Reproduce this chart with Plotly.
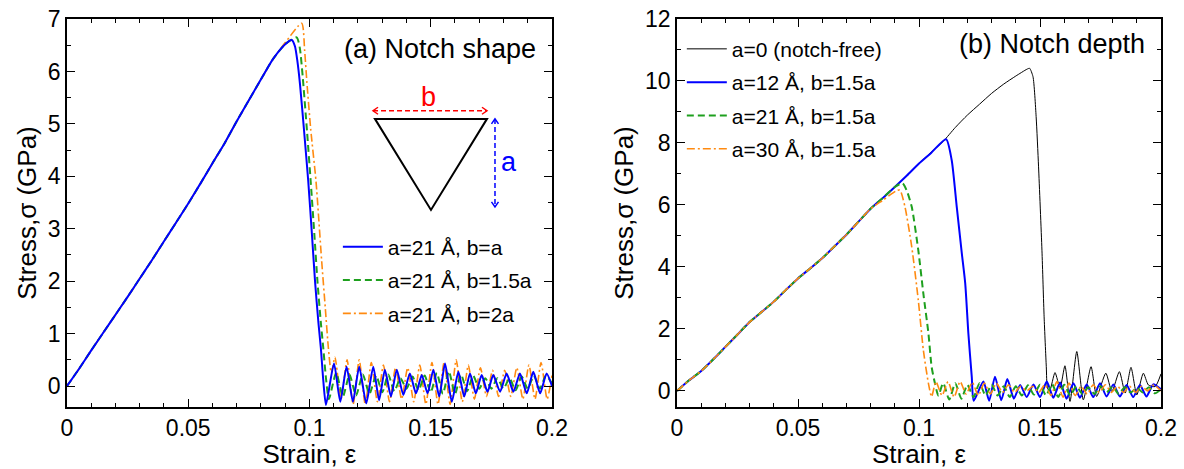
import plotly.graph_objects as go

# ---------------- data: panel (a) notch shape ----------------
load_strain_a = [0.0, 0.005, 0.01, 0.015, 0.02, 0.025, 0.03, 0.035, 0.04, 0.045,
                 0.05, 0.055, 0.06, 0.065, 0.07, 0.075, 0.08, 0.085, 0.09]
load_stress_a = [0.0, 0.33, 0.68, 1.02, 1.36, 1.70, 2.05, 2.40, 2.76, 3.12,
                 3.48, 3.86, 4.25, 4.63, 5.05, 5.45, 5.85, 6.24, 6.52]

ba_strain = [0.0927, 0.094, 0.095, 0.0961, 0.0978, 0.0995, 0.101, 0.1023, 0.1037, 0.1047, 0.1057, 0.1068,
             0.1101, 0.1127, 0.1153, 0.1179, 0.1205, 0.1234, 0.1263, 0.1287, 0.1311, 0.1336,
             0.1360, 0.1387, 0.1414, 0.1439, 0.1463, 0.1487, 0.1511, 0.1535, 0.1559, 0.1587,
             0.1614, 0.1638, 0.1662, 0.1686, 0.1710, 0.1734, 0.1758, 0.1786, 0.1813, 0.1841,
             0.1868, 0.1896, 0.1923, 0.1951, 0.1978, 0.2]
ba_stress = [6.60, 6.48, 6.20, 5.75, 4.85, 3.90, 2.90, 1.99, 1.20, 0.72, 0.10, -0.36,
             0.43, -0.30, 0.37, -0.30, 0.37, -0.33, 0.37, -0.27, 0.31, -0.20,
             0.31, -0.17, 0.24, -0.14, 0.21, -0.14, 0.31, -0.20, 0.43, -0.30,
             0.27, -0.20, 0.24, -0.14, 0.21, -0.11, 0.21, -0.11, 0.24, -0.11,
             0.24, -0.14, 0.27, -0.14, 0.24, 0.0]

b15_strain = [0.0947, 0.0960, 0.0972, 0.0990, 0.1005, 0.1020, 0.1033, 0.1047, 0.1057, 0.1068, 0.1080,
              0.1110, 0.1138, 0.1165, 0.1192, 0.1220, 0.1247, 0.1275, 0.1300, 0.1325, 0.1350,
              0.1375, 0.1400, 0.1425, 0.1450, 0.1475, 0.1500, 0.1525, 0.1550, 0.1575, 0.1600,
              0.1625, 0.1650, 0.1675, 0.1700, 0.1725, 0.1750, 0.1775, 0.1800, 0.1825, 0.1850,
              0.1875, 0.1900, 0.1925, 0.1950, 0.1975, 0.2]
b15_stress = [6.65, 6.45, 5.90, 4.85, 3.90, 2.90, 1.99, 1.20, 0.72, 0.15, -0.25,
              0.25, -0.20, 0.22, -0.18, 0.22, -0.15, 0.20, -0.12, 0.22, -0.10,
              0.15, -0.05, 0.18, -0.08, 0.20, -0.12, 0.25, -0.15, 0.28, -0.15,
              0.22, -0.10, 0.20, -0.05, 0.15, -0.05, 0.15, -0.05, 0.15, -0.08,
              0.18, -0.05, 0.20, -0.05, 0.20, 0.05]

b2_strain = [0.0968, 0.0980, 0.0989, 0.1005, 0.1027, 0.1050, 0.1065, 0.1078, 0.1090,
             0.1105, 0.1130, 0.1155, 0.1180, 0.1205, 0.1230, 0.1255, 0.1280, 0.1305, 0.1330,
             0.1355, 0.1380, 0.1405, 0.1430, 0.1455, 0.1480, 0.1505, 0.1530, 0.1555, 0.1580,
             0.1605, 0.1630, 0.1655, 0.1680, 0.1705, 0.1730, 0.1755, 0.1780, 0.1805, 0.1830,
             0.1855, 0.1880, 0.1905, 0.1930, 0.1955, 0.1980, 0.2]
b2_stress = [6.92, 6.40, 5.81, 4.90, 3.90, 2.40, 1.50, 0.72, 0.25,
             0.55, -0.25, 0.50, -0.35, 0.50, -0.35, 0.45, -0.30, 0.40, -0.30,
             0.35, -0.25, 0.35, -0.30, 0.40, -0.35, 0.45, -0.35, 0.45, -0.35,
             0.50, -0.30, 0.40, -0.25, 0.35, -0.20, 0.30, -0.20, 0.30, -0.20,
             0.35, -0.25, 0.40, -0.25, 0.45, -0.25, 0.20]

labels_a = ["a=21 Å, b=a", "a=21 Å, b=1.5a", "a=21 Å, b=2a"]

# ---------------- data: panel (b) notch depth ----------------
load_strain_b = [0.0, 0.005, 0.01, 0.015, 0.02, 0.025, 0.03, 0.035, 0.04, 0.045,
                 0.05, 0.055, 0.06, 0.065, 0.07, 0.075, 0.08, 0.085, 0.09]
load_stress_b = [0.0, 0.34, 0.64, 1.02, 1.42, 1.82, 2.22, 2.55, 2.88, 3.26,
                 3.63, 3.95, 4.28, 4.66, 5.04, 5.46, 5.88, 6.22, 6.58]

a0_strain = [0.095, 0.10, 0.105, 0.11, 0.115, 0.12, 0.125, 0.13, 0.135, 0.14, 0.1446, 0.1457,
             0.1471, 0.1484, 0.1494, 0.1508, 0.1517, 0.1526, 0.1531, 0.1540,
             0.1562, 0.1583, 0.1603, 0.1624, 0.1652, 0.1679, 0.1711, 0.1734, 0.1772, 0.1797,
             0.1828, 0.1852, 0.1876, 0.1900, 0.1927, 0.1948, 0.1976, 0.2]
a0_stress = [6.95, 7.34, 7.70, 8.05, 8.50, 8.90, 9.25, 9.60, 9.90, 10.16, 10.38, 10.41,
             10.14, 8.85, 7.23, 4.54, 2.39, 0.78, 0.08, 0.0,
             0.59, 0.09, 0.81, -0.34, 1.27, -0.29, 0.78, -0.18, 0.57, -0.02,
             0.62, -0.07, 0.76, -0.13, 0.57, 0.19, 0.14, 0.55]

a12_strain = [0.095, 0.10, 0.105, 0.1112, 0.1135, 0.1156, 0.1177, 0.1191, 0.1204, 0.1218, 0.1226,
              0.1266, 0.1290, 0.1314, 0.1340, 0.1365, 0.1392, 0.1418, 0.1445, 0.1473, 0.1500,
              0.1528, 0.1555, 0.1583, 0.1610, 0.1638, 0.1665, 0.1693, 0.1720, 0.1748, 0.1775,
              0.1803, 0.1830, 0.1858, 0.1885, 0.1913, 0.1940, 0.1968, 0.2]
a12_stress = [6.95, 7.34, 7.68, 8.12, 7.45, 5.94, 4.43, 3.47, 1.85, 0.45, -0.32,
              0.30, -0.32, 0.46, -0.30, 0.38, -0.25, 0.19, -0.20, 0.21, -0.20,
              0.30, -0.22, 0.27, -0.25, 0.25, -0.22, 0.21, -0.20, 0.25, -0.18,
              0.21, -0.18, 0.19, -0.20, 0.19, -0.18, 0.21, 0.05]

a21_strain = [0.0932, 0.0950, 0.0970, 0.0997, 0.1018, 0.1039, 0.1052, 0.1066, 0.1080,
              0.1100, 0.1125, 0.1150, 0.1175, 0.1200, 0.1225, 0.1250, 0.1275, 0.1300, 0.1325,
              0.1350, 0.1375, 0.1400, 0.1425, 0.1450, 0.1475, 0.1500, 0.1525, 0.1550, 0.1575,
              0.1600, 0.1625, 0.1650, 0.1675, 0.1700, 0.1725, 0.1750, 0.1775, 0.1800, 0.1825,
              0.1850, 0.1875, 0.1900, 0.1925, 0.1950, 0.1975, 0.2]
a21_stress = [6.70, 6.45, 5.94, 4.54, 3.14, 1.85, 0.78, 0.24, -0.15,
              0.25, -0.28, 0.25, -0.25, 0.20, -0.20, 0.25, -0.15, 0.20, -0.15,
              0.15, -0.20, 0.15, -0.15, 0.18, -0.12, 0.20, -0.15, 0.22, -0.20,
              0.20, -0.15, 0.15, -0.10, 0.12, -0.10, 0.15, -0.05, 0.15, -0.10,
              0.12, -0.05, 0.10, -0.05, 0.12, -0.08, 0.05]

a30_load_end = [6.15, 6.45]
a30_strain = [0.0921, 0.0942, 0.0970, 0.0997, 0.1018, 0.1039, 0.1052,
              0.1070, 0.1095, 0.1120, 0.1145, 0.1170, 0.1195, 0.1220, 0.1245, 0.1270, 0.1295,
              0.1320, 0.1345, 0.1370, 0.1395, 0.1420, 0.1445, 0.1470, 0.1495, 0.1520, 0.1545,
              0.1570, 0.1595, 0.1620, 0.1645, 0.1670, 0.1695, 0.1720, 0.1745, 0.1770, 0.1795,
              0.1820, 0.1845, 0.1870, 0.1895, 0.1920, 0.1945, 0.1970, 0.2]
a30_stress = [6.48, 5.94, 4.65, 2.93, 1.31, 0.24, -0.19,
              0.30, -0.15, 0.30, -0.20, 0.30, -0.10, 0.28, -0.15, 0.25, -0.10,
              0.25, -0.05, 0.20, -0.05, 0.15, 0.0, 0.15, -0.05, 0.20, -0.15,
              0.30, -0.20, 0.25, -0.15, 0.15, -0.10, 0.20, -0.05, 0.20, -0.05,
              0.15, -0.05, 0.15, -0.05, 0.15, 0.0, 0.20, 0.0]

labels_b = ["a=0 (notch-free)", "a=12 Å, b=1.5a", "a=21 Å, b=1.5a", "a=30 Å, b=1.5a"]

x_ticks = [0, 0.05, 0.1, 0.15, 0.2]

# ---------------- styles ----------------
FONT = "Liberation Sans, Arial, Helvetica, sans-serif"
BLUE = "#0000ff"
GREEN = "#1ea01e"
ORANGE = "#ff8a10"
GREEN_DASH = "7px,4px"
ORANGE_DASH = "8px,3px,2px,3px"

fig = go.Figure()

# panel (a)
fig.add_trace(go.Scatter(x=load_strain_a[:-1] + [0.09] + b2_strain,
                         y=load_stress_a[:-1] + [6.55] + b2_stress,
                         mode="lines", name=labels_a[2], legend="legend", legendrank=3, legendgroup="a3",
                         line=dict(color=ORANGE, width=1.6, dash=ORANGE_DASH, shape="spline", smoothing=0.6),
                         xaxis="x", yaxis="y"))
fig.add_trace(go.Scatter(x=load_strain_a + b15_strain, y=load_stress_a + b15_stress,
                         mode="lines", name=labels_a[1], legend="legend", legendrank=2, legendgroup="a2",
                         line=dict(color=GREEN, width=2, dash=GREEN_DASH, shape="spline", smoothing=0.6),
                         xaxis="x", yaxis="y"))
fig.add_trace(go.Scatter(x=load_strain_a + ba_strain, y=load_stress_a + ba_stress,
                         mode="lines", name=labels_a[0], legend="legend", legendrank=1, legendgroup="a1",
                         line=dict(color=BLUE, width=2, shape="spline", smoothing=0.6),
                         xaxis="x", yaxis="y"))

# panel (b)
fig.add_trace(go.Scatter(x=load_strain_b + a0_strain, y=load_stress_b + a0_stress,
                         mode="lines", name=labels_b[0], legend="legend2", legendrank=1, legendgroup="b1",
                         line=dict(color="black", width=1, shape="spline", smoothing=0.6),
                         xaxis="x2", yaxis="y2"))
fig.add_trace(go.Scatter(x=load_strain_b + a12_strain, y=load_stress_b + a12_stress,
                         mode="lines", name=labels_b[1], legend="legend2", legendrank=2, legendgroup="b2",
                         line=dict(color=BLUE, width=2, shape="spline", smoothing=0.6),
                         xaxis="x2", yaxis="y2"))
fig.add_trace(go.Scatter(x=load_strain_b + a21_strain, y=load_stress_b + a21_stress,
                         mode="lines", name=labels_b[2], legend="legend2", legendrank=3, legendgroup="b3",
                         line=dict(color=GREEN, width=2, dash=GREEN_DASH, shape="spline", smoothing=0.6),
                         xaxis="x2", yaxis="y2"))
fig.add_trace(go.Scatter(x=load_strain_b[:-2] + [0.085, 0.0905] + a30_strain,
                         y=load_stress_b[:-2] + a30_load_end + a30_stress,
                         mode="lines", name=labels_b[3], legend="legend2", legendrank=4, legendgroup="b4",
                         line=dict(color=ORANGE, width=1.6, dash=ORANGE_DASH, shape="spline", smoothing=0.6),
                         xaxis="x2", yaxis="y2"))

axis_common = dict(
    showline=True, linecolor="black", linewidth=1.5, mirror="allticks",
    ticks="inside", ticklen=8, tickwidth=1, tickcolor="black",
    showgrid=False, zeroline=False,
    tickfont=dict(family=FONT, size=23, color="black"),
    title_font=dict(family=FONT, size=26, color="black"),
    ticklabeloverflow="allow",
    automargin=False,
)
minor_x = dict(dtick=0.01, ticks="inside", ticklen=4, tickwidth=1, tickcolor="black", showgrid=False)

fig.update_layout(
    width=1184, height=469,
    margin=dict(l=67, r=23, t=19, b=62),
    paper_bgcolor="white", plot_bgcolor="white",
    showlegend=True,
    xaxis=dict(domain=[0, 0.4433], range=[0, 0.2], tickvals=x_ticks, minor=minor_x,
               title=dict(text="Strain, ε", standoff=8), anchor="y", **axis_common),
    yaxis=dict(domain=[0, 1], range=[-0.4, 7.0001], dtick=1,
               minor=dict(dtick=0.5, ticks="inside", ticklen=4, tickwidth=1, tickcolor="black", showgrid=False),
               title=dict(text="Stress,σ (GPa)", standoff=4), anchor="x", **axis_common),
    xaxis2=dict(domain=[0.5576, 1], range=[0, 0.2], tickvals=x_ticks, minor=minor_x,
                title=dict(text="Strain, ε", standoff=8), anchor="y2", **axis_common),
    yaxis2=dict(domain=[0, 1], range=[-0.52, 12.0001], dtick=2,
                minor=dict(dtick=1, ticks="inside", ticklen=4, tickwidth=1, tickcolor="black", showgrid=False),
                title=dict(text="Stress,σ (GPa)", standoff=4), anchor="x2", **axis_common),
    legend=dict(x=0.2476, y=0.465, xref="paper", yref="paper", xanchor="left", yanchor="top",
                bgcolor="rgba(0,0,0,0)", font=dict(family=FONT, size=21, color="black"),
                itemwidth=40, traceorder="grouped", tracegroupgap=3),
    legend2=dict(x=0.562, y=0.975, xref="paper", yref="paper", xanchor="left", yanchor="top",
                 bgcolor="rgba(0,0,0,0)", font=dict(family=FONT, size=21, color="black"),
                 itemwidth=40, traceorder="grouped", tracegroupgap=3),
)

# panel labels
fig.add_annotation(text="(a) Notch shape", x=0.1537, y=6.42, xref="x", yref="y",
                   showarrow=False, font=dict(family=FONT, size=27, color="black"))
fig.add_annotation(text="(b) Notch depth", x=0.1551, y=11.2, xref="x2", yref="y2",
                   showarrow=False, font=dict(family=FONT, size=27, color="black"))

# notch inset (triangle with dimension arrows)
px_x = 0.2 / 485.0
px_y = 1 / 52.4
fig.add_shape(type="path", xref="x", yref="y",
              path=f"M0.1270,5.095 L0.1732,5.095 L0.1501,3.359 Z",
              line=dict(color="black", width=2))
# b arrow (horizontal, red)
yb = 5.25
fig.add_shape(type="line", xref="x", yref="y", x0=0.1262, x1=0.1732, y0=yb, y1=yb,
              line=dict(color="red", width=1.5, dash="5px,3px"))
fig.add_shape(type="path", xref="x", yref="y",
              path=f"M{0.1262+5*px_x},{yb+3.5*px_y} L0.1262,{yb} L{0.1262+5*px_x},{yb-3.5*px_y}",
              line=dict(color="red", width=1.5))
fig.add_shape(type="path", xref="x", yref="y",
              path=f"M{0.1732-5*px_x},{yb+3.5*px_y} L0.1732,{yb} L{0.1732-5*px_x},{yb-3.5*px_y}",
              line=dict(color="red", width=1.5))
fig.add_annotation(text="b", x=0.1489, y=5.52, xref="x", yref="y", showarrow=False,
                   font=dict(family=FONT, size=27, color="red"))
# a arrow (vertical, blue)
xa = 0.1765
fig.add_shape(type="line", xref="x", yref="y", x0=xa, x1=xa, y0=5.095, y1=3.416,
              line=dict(color=BLUE, width=1.5, dash="5px,3px"))
fig.add_shape(type="path", xref="x", yref="y",
              path=f"M{xa-3.5*px_x},{5.095-5*px_y} L{xa},5.095 L{xa+3.5*px_x},{5.095-5*px_y}",
              line=dict(color=BLUE, width=1.5))
fig.add_shape(type="path", xref="x", yref="y",
              path=f"M{xa-3.5*px_x},{3.416+5*px_y} L{xa},3.416 L{xa+3.5*px_x},{3.416+5*px_y}",
              line=dict(color=BLUE, width=1.5))
fig.add_annotation(text="a", x=0.1822, y=4.27, xref="x", yref="y", showarrow=False,
                   font=dict(family=FONT, size=27, color=BLUE))

fig.write_html("out.html", config={"displayModeBar": False},
               post_script="document.body.style.margin='0';document.body.style.overflow='hidden';")
